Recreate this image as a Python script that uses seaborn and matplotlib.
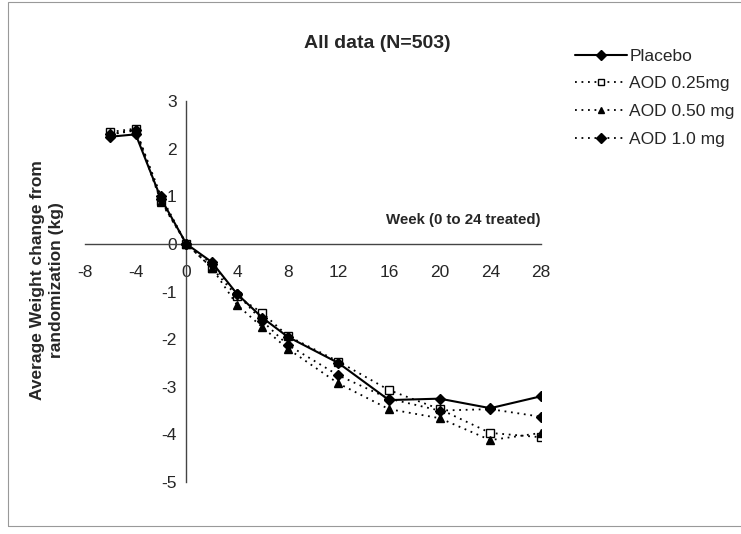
import matplotlib
matplotlib.use("Agg")
import matplotlib.pyplot as plt
import seaborn as sns
import pandas as pd
from matplotlib.patches import Rectangle

# valori
weeks = [-6, -4, -2, 0, 2, 4, 6, 8, 12, 16, 20, 24, 28]
placebo = [2.25, 2.30, 0.95, 0.0, -0.38, -1.05, -1.55, -1.95, -2.50, -3.28, -3.25, -3.45, -3.20]
aod_025 = [2.35, 2.42, 0.90, 0.0, -0.50, -1.10, -1.45, -1.93, -2.47, -3.07, -3.47, -3.97, -4.06]
aod_050 = [2.30, 2.38, 0.88, 0.0, -0.50, -1.28, -1.75, -2.20, -2.93, -3.47, -3.66, -4.12, -3.97]
aod_10 = [2.30, 2.40, 1.00, 0.0, -0.42, -1.05, -1.62, -2.12, -2.76, -3.25, -3.50, -3.47, -3.63]

series_names = ["Placebo", "AOD 0.25mg", "AOD 0.50 mg", "AOD 1.0 mg"]
x_ticks = [-8, -4, 0, 4, 8, 12, 16, 20, 24, 28]
y_ticks = [3, 2, 1, 0, -1, -2, -3, -4, -5]

df = pd.DataFrame({
    "week": weeks * 4,
    "change": placebo + aod_025 + aod_050 + aod_10,
    "group": [n for n in series_names for _ in weeks],
})

sns.set_style("white")
plt.rcParams["font.family"] = ["Liberation Sans", "DejaVu Sans"]
plt.rcParams["axes.unicode_minus"] = False

fig = plt.figure(figsize=(7.41, 5.34), dpi=100)
ax = fig.add_axes([85 / 741, 1 - 482 / 534, 456 / 741, 381 / 534])

dotted = (0, (1, 2.6))
styles = {
    "Placebo": dict(marker="D", linestyle="-", markerfacecolor="black", lw=1.5, z=5),
    "AOD 0.25mg": dict(marker="s", linestyle=dotted, markerfacecolor="white", lw=1.3, z=3),
    "AOD 0.50 mg": dict(marker="^", linestyle=dotted, markerfacecolor="black", lw=1.3, z=3),
    "AOD 1.0 mg": dict(marker="D", linestyle=dotted, markerfacecolor="black", lw=1.3, z=4),
}

for name in series_names:
    st = styles[name]
    sns.lineplot(data=df[df["group"] == name], x="week", y="change", ax=ax,
                 color="black", marker=st["marker"], linestyle=st["linestyle"],
                 linewidth=st["lw"], markersize=5.5, markerfacecolor=st["markerfacecolor"],
                 markeredgecolor="black", markeredgewidth=1.0, zorder=st["z"],
                 label=name)

ax.set_xlim(-8, 28)
ax.set_ylim(-5, 3)
ax.set_xticks(x_ticks)
ax.set_yticks(y_ticks)
ax.set_xticklabels([str(t) for t in x_ticks])
ax.set_yticklabels([str(t) for t in y_ticks])

# axele se intersectează în origine
ax.spines["left"].set_position(("data", 0))
ax.spines["bottom"].set_position(("data", 0))
ax.spines["top"].set_visible(False)
ax.spines["right"].set_visible(False)
for sp in ("left", "bottom"):
    ax.spines[sp].set_color("#444444")
    ax.spines[sp].set_linewidth(1.0)

ax.tick_params(axis="x", direction="in", length=5, pad=15, labelsize=12.5, color="#444444")
ax.tick_params(axis="y", direction="out", length=4, pad=3, labelsize=12.5, color="#444444")
ax.set_xlabel("")
ax.set_ylabel("")

ax.text(28, 0.36, "Week (0 to 24 treated)", ha="right", va="bottom",
        fontsize=10.8, fontweight="bold")
fig.text(377 / 741, 1 - 43 / 534, "All data (N=503)", ha="center", va="center",
         fontsize=14, fontweight="bold")
fig.text(47 / 741, 1 - 280 / 534, "Average Weight change from\nrandomization (kg)",
         ha="center", va="center", rotation=90, fontsize=12.5, fontweight="bold",
         linespacing=1.3)

ax.legend(loc="upper left", bbox_to_anchor=(559 / 741, 1 - 33 / 534),
          bbox_transform=fig.transFigure, frameon=False, fontsize=12.5,
          handlelength=3.0, handletextpad=0.15, labelspacing=0.72, markerscale=0.85)

fig.patches.append(Rectangle((8 / 741, 8 / 534), 1.0, 1 - 10 / 534,
                             transform=fig.transFigure, fill=False,
                             edgecolor="#999999", linewidth=0.8))

fig.savefig("out.png", dpi=100)
